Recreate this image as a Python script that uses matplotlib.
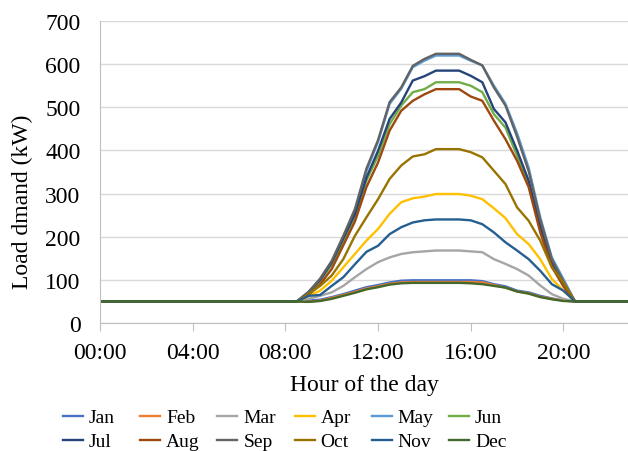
import numpy as np
import matplotlib
matplotlib.use("Agg")
import matplotlib.pyplot as plt
from matplotlib.lines import Line2D

plt.rcParams['font.family'] = ['Liberation Serif', 'DejaVu Serif']

W, H = 628, 452
FS = 17
LEG_FS = 14

# Half-hourly sampling over the day; flat base load outside the daytime window
hours = np.arange(0, 24, 0.5)
base_load = 50
day_hours = np.arange(8.5, 20.51, 0.5)

months = ["Jan", "Feb", "Mar", "Apr", "May", "Jun",
          "Jul", "Aug", "Sep", "Oct", "Nov", "Dec"]

jan = [50, 52, 54, 60, 67, 75, 83, 88, 94, 98, 99, 99, 99, 99, 99, 99, 97, 90, 85, 75, 71, 63, 57, 52, 50]
feb = [50, 49, 52, 58, 65, 72, 80, 85, 91, 94, 95, 95, 95, 95, 95, 95, 94, 88, 82, 73, 69, 61, 56, 52, 50]
mar = [50, 56, 63, 71, 86, 106, 125, 141, 152, 160, 164, 166, 168, 168, 168, 166, 164, 148, 137, 125, 110, 87, 67, 56, 50]
apr = [50, 62, 75, 98, 129, 160, 191, 218, 253, 280, 289, 293, 299, 299, 299, 295, 287, 266, 243, 206, 183, 148, 102, 75, 50]
may = [50, 70, 100, 140, 198, 258, 352, 420, 508, 543, 593, 608, 620, 620, 620, 608, 597, 550, 508, 440, 360, 245, 152, 102, 50]
jun = [50, 70, 98, 135, 190, 245, 330, 388, 461, 504, 535, 542, 558, 558, 558, 550, 535, 484, 453, 388, 322, 220, 135, 88, 50]
jul = [50, 72, 100, 140, 196, 252, 337, 399, 473, 511, 562, 572, 585, 585, 585, 573, 558, 496, 465, 400, 330, 225, 140, 90, 50]
aug = [50, 65, 90, 125, 180, 235, 315, 372, 446, 492, 515, 530, 542, 542, 542, 525, 515, 469, 426, 376, 315, 210, 130, 85, 50]
sep = [50, 72, 103, 144, 202, 264, 358, 424, 512, 546, 596, 612, 624, 624, 624, 610, 597, 546, 504, 432, 352, 240, 148, 96, 50]
oct_ = [50, 67, 86, 110, 148, 202, 245, 287, 334, 365, 386, 391, 403, 403, 403, 396, 384, 353, 322, 268, 237, 191, 129, 94, 50]
nov = [50, 63, 65, 86, 106, 136, 165, 179, 206, 222, 233, 238, 240, 240, 240, 238, 229, 210, 187, 168, 148, 121, 90, 75, 50]
dec = [50, 49, 51, 56, 63, 70, 78, 83, 89, 92, 93, 93, 93, 93, 93, 92, 90, 86, 82, 73, 68, 60, 55, 51, 50]

daytime = [jan, feb, mar, apr, may, jun, jul, aug, sep, oct_, nov, dec]

colors = ["#4472C4", "#ED7D31", "#A5A5A5", "#FFC000", "#5B9BD5", "#70AD47",
          "#264478", "#9E480E", "#636363", "#997300", "#255E91", "#43682B"]

tick_hours = [0, 4, 8, 12, 16, 20]
tick_labels = ["00:00", "04:00", "08:00", "12:00", "16:00", "20:00"]


def full_day(values):
    load = np.full(hours.shape, float(base_load))
    idx = np.searchsorted(hours, day_hours)
    load[idx] = values
    return load


def fx(px):
    return px / W


def fy(py):
    return 1 - py / H


fig = plt.figure(figsize=(W / 100, H / 100), dpi=100)
ax = fig.add_axes([fx(100), fy(324), 1 - fx(100), (324 - 22) / H])

for name, vals, c in zip(months, daytime, colors):
    ax.plot(hours, full_day(vals), color=c, lw=1.7, label=name,
            solid_joinstyle='round')

ax.set_xlim(0, (W - 100) / 23.17)
ax.set_ylim(0, 700)
ax.set_yticks(range(0, 701, 100))
ax.set_xticks(tick_hours)
ax.set_xticklabels(tick_labels)

ax.grid(axis='y', color='#D9D9D9', lw=1.0)
ax.set_axisbelow(True)
for s in ['top', 'right']:
    ax.spines[s].set_visible(False)
ax.spines['left'].set_color('#BFBFBF')
ax.spines['bottom'].set_color('#BFBFBF')
ax.tick_params(axis='y', length=0, pad=14, labelsize=FS)
ax.tick_params(axis='x', length=6, color='#BFBFBF', direction='out', pad=7.5,
               labelsize=FS)

fig.text(fx(22), fy(202), "Load dmand (kW)", rotation=90, ha='center',
         va='center', fontsize=FS)
fig.text(fx(364), fy(386), "Hour of the day", ha='center', va='center',
         fontsize=FS)

# Legend: two rows of six evenly spaced entries
for i, (name, c) in enumerate(zip(months, colors)):
    col, row = i % 6, i // 6
    x0 = 63 + 77.2 * col
    y0 = 416.5 + 24.5 * row
    fig.add_artist(Line2D([fx(x0), fx(x0 + 20)], [fy(y0), fy(y0)],
                          color=c, lw=1.7, transform=fig.transFigure))
    fig.text(fx(x0 + 26), fy(y0 + 6.5), name, ha='left', va='baseline',
             fontsize=LEG_FS)

fig.savefig("out.png", dpi=100)
